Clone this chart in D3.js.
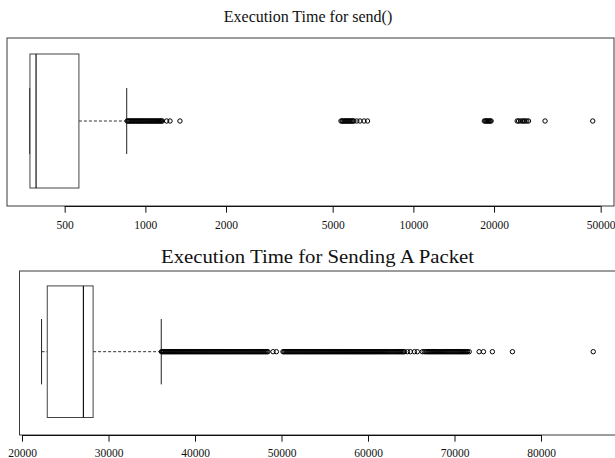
<!DOCTYPE html>
<html><head><meta charset="utf-8">
<script src="https://cdn.jsdelivr.net/npm/d3@7"></script>
<style>body{margin:0;background:#fff}</style>
</head><body>
<svg id="c" width="615" height="458"></svg>
<script>
// ---------- data: send() ----------
const sendTitle = "Execution Time for send()";
const sendTicks = [500, 1000, 2000, 5000, 10000, 20000, 50000];
// [lower whisker, Q1, median, Q3, upper whisker]
const sendBox = [370, 371, 391, 565, 852];
const sendOutliers = [
  855, 862, 870, 877, 885, 892, 900, 908, 916, 924, 932, 940, 948, 956, 964, 973, 981, 990, 998,
  1007, 1016, 1025, 1034, 1043, 1052, 1061, 1070, 1080, 1089, 1099, 1108, 1118, 1128, 1138, 1148, 1158,
  1201, 1236, 1346,
  5370, 5420, 5460, 5510, 5560, 5600, 5650, 5700, 5750, 5800, 5850, 5900, 5950, 6000, 6150, 6323, 6543, 6744,
  18400, 18560, 18720, 18880, 19040, 19200, 19360, 19500,
  24400, 24700, 25100, 25500, 25800, 26100, 26500, 26900,
  31000, 46700
];

// ---------- data: sending a packet ----------
const packetTitle = "Execution Time for Sending A Packet";
const packetTicks = [20000, 30000, 40000, 50000, 60000, 70000, 80000];
const packetBox = [22260, 22920, 27100, 28220, 36100];
const packetOutliers = [
  36120, 36230, 36350, 36460, 36580, 36690, 36810, 36920, 37040, 37150, 37270, 37380, 37500, 37610, 37730, 37840,
  37960, 38070, 38190, 38300, 38420, 38530, 38650, 38760, 38880, 38990, 39110, 39220, 39340, 39450, 39570, 39680,
  39800, 39910, 40030, 40140, 40260, 40370, 40490, 40600, 40720, 40830, 40950, 41060, 41180, 41290, 41410, 41520,
  41640, 41750, 41870, 41980, 42100, 42210, 42330, 42440, 42560, 42670, 42790, 42900, 43020, 43130, 43250, 43360,
  43480, 43590, 43710, 43820, 43940, 44050, 44170, 44280, 44400, 44510, 44630, 44740, 44860, 44970, 45090, 45200,
  45320, 45430, 45550, 45660, 45780, 45890, 46010, 46120, 46240, 46350, 46470, 46580, 46700, 46810, 46930, 47040,
  47160, 47270, 47390, 47500, 47620, 47730, 47850, 47960, 48080, 48190, 48310, 48430,
  49020, 49410,
  50170, 50285, 50400, 50515, 50630, 50745, 50860, 50975, 51090, 51205, 51320, 51435, 51550, 51665, 51780, 51895,
  52010, 52125, 52240, 52355, 52470, 52585, 52700, 52815, 52930, 53045, 53160, 53275, 53390, 53505, 53620, 53735,
  53850, 53965, 54080, 54195, 54310, 54425, 54540, 54655, 54770, 54885, 55000, 55115, 55230, 55345, 55460, 55575,
  55690, 55805, 55920, 56035, 56150, 56265, 56380, 56495, 56610, 56725, 56840, 56955, 57070, 57185, 57300, 57415,
  57530, 57645, 57760, 57875, 57990, 58105, 58220, 58335, 58450, 58565, 58680, 58795, 58910, 59025, 59140, 59255,
  59370, 59485, 59600, 59715, 59830, 59945, 60060, 60175, 60290, 60405, 60520, 60635, 60750, 60865, 60980, 61095,
  61210, 61330, 61450, 61570, 61690, 61810, 61930, 62050, 62170, 62290, 62410, 62530, 62650, 62770, 62890, 63010,
  63130, 63250, 63370, 63490, 63610, 63730, 63850, 63970, 64090, 64210,
  64560, 64900, 65360, 65700,
  66280, 66500, 66680, 66820, 66950, 67070, 67190, 67310, 67430, 67550, 67670, 67790, 67910, 68030, 68150, 68270,
  68390, 68510, 68630, 68750, 68870, 68990, 69110, 69230, 69350, 69470, 69590, 69710, 69830, 69950, 70070, 70190,
  70310, 70430, 70550, 70670, 70790, 70910, 71030, 71150, 71270, 71390, 71510, 71700,
  72850, 73350, 74380, 76700, 86040
];

const svg = d3.select("#c");
const serif = "'Liberation Serif', 'Times New Roman', serif";

function panel(opt) {
  const g = svg.append("g");
  const x = opt.scale;
  // frame
  g.append("rect").attr("x", opt.left).attr("y", opt.top)
    .attr("width", opt.right - opt.left).attr("height", opt.bottom - opt.top)
    .attr("fill", "none").attr("stroke", "#3a3a3a").attr("stroke-width", 1);
  // title
  const t = g.append("text").attr("x", opt.titleX).attr("y", opt.titleY)
    .attr("text-anchor", "middle").attr("font-family", serif)
    .attr("font-size", opt.titleSize).attr("fill", "#111").text(opt.title);
  if (opt.titleWidth) {
    t.attr("textLength", opt.titleWidth).attr("lengthAdjust", "spacingAndGlyphs");
  }
  // axis
  const ax = d3.axisBottom(x).tickValues(opt.ticks).tickSize(6.7).tickPadding(opt.pad)
    .tickFormat(d3.format("d"));
  const axg = g.append("g").attr("transform", `translate(0,${opt.bottom})`).call(ax);
  axg.select(".domain").remove();
  axg.selectAll(".tick line").attr("stroke", "#111");
  axg.selectAll(".tick text").attr("font-family", serif).attr("font-size", 11.5).attr("fill", "#111");
  axg.append("line").attr("x1", x(opt.ticks[0])).attr("x2", x(opt.ticks[opt.ticks.length - 1]))
    .attr("y1", 0.5).attr("y2", 0.5).attr("stroke", "#111");

  const [lw, q1, med, q3, uw] = opt.box;
  const cy = opt.cy, hb = opt.halfBox, hs = opt.halfStaple;
  // whiskers (dashed)
  g.append("line").attr("x1", x(q3)).attr("x2", x(uw)).attr("y1", cy).attr("y2", cy)
    .attr("stroke", "#333").attr("stroke-dasharray", "3,2");
  g.append("line").attr("x1", x(lw)).attr("x2", x(q1)).attr("y1", cy).attr("y2", cy)
    .attr("stroke", "#333").attr("stroke-dasharray", "3,2");
  // staples
  [lw, uw].forEach(v => g.append("line").attr("x1", x(v)).attr("x2", x(v))
    .attr("y1", cy - hs).attr("y2", cy + hs).attr("stroke", "#222"));
  // box
  g.append("rect").attr("x", x(q1)).attr("y", cy - hb).attr("width", x(q3) - x(q1)).attr("height", 2 * hb)
    .attr("fill", "none").attr("stroke", "#444");
  g.append("line").attr("x1", x(med)).attr("x2", x(med)).attr("y1", cy - hb).attr("y2", cy + hb)
    .attr("stroke", "#111").attr("stroke-width", 1.2);
  // outliers
  g.selectAll("circle.o").data(opt.outliers).enter().append("circle").attr("class", "o")
    .attr("cx", d => x(d)).attr("cy", cy).attr("r", 2.2)
    .attr("fill", "none").attr("stroke", "#000").attr("stroke-width", 1);
}

panel({
  title: sendTitle, titleX: 308, titleY: 22, titleSize: 16,
  scale: d3.scaleLog().domain([304.6, 56060]).range([7, 614]),
  left: 7, right: 614, top: 38, bottom: 206, pad: 8,
  ticks: sendTicks, box: sendBox, outliers: sendOutliers,
  cy: 121, halfBox: 67, halfStaple: 33
});

panel({
  title: packetTitle, titleX: 317.5, titleY: 263, titleSize: 18, titleWidth: 313,
  scale: d3.scaleLinear().domain([20000, 80000]).range([22, 541]),
  left: 19.5, right: 640, top: 271, bottom: 435, pad: 7.5,
  ticks: packetTicks, box: packetBox, outliers: packetOutliers,
  cy: 351.7, halfBox: 65.8, halfStaple: 32.7
});
</script>
</body></html>
